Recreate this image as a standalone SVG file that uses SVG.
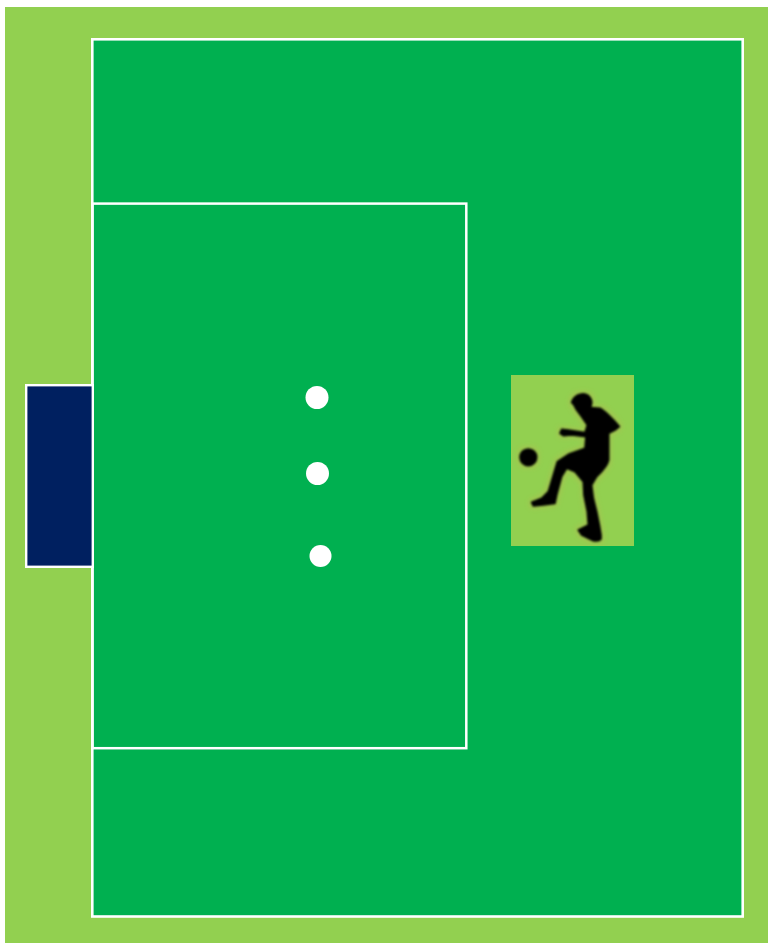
<svg xmlns="http://www.w3.org/2000/svg" width="768" height="943" viewBox="0 0 768 943">
<style>
.line{fill:none;stroke:#fff}
.spot{fill:#fff}
.shape{fill:#000;stroke:#000;stroke-width:5;stroke-linejoin:round}
</style>
<defs>
<filter id="soft" x="-10%" y="-10%" width="120%" height="120%"><feGaussianBlur stdDeviation="2.4"/></filter>
<filter id="halo" x="-20%" y="-20%" width="140%" height="140%"><feMorphology operator="dilate" radius="8"/><feGaussianBlur stdDeviation="6"/></filter>
<g id="figure">
<circle cx="85" cy="277" r="25"/>
<path d="M215 112C222 92 240 84 255 87C268 90 276 102 275 115L272 128L300 130C318 140 335 160 345 170L358 185L345 195L326 205L326 285C322 305 300 325 290 335L275 360L280 400L290 440L298 480L303 510L303 522C298 530 285 528 280 527L245 510L235 495L265 480L262 440L252 390L250 350L225 320L200 310L185 335L170 390L165 415L130 420L100 423L95 412L125 400L145 380L160 330L172 290L205 268L255 250L258 215L215 210L190 212L180 205L185 193L205 195L255 203L262 180L245 155L230 135L222 120Z"/>
</g>
</defs>
<rect width="768" height="943" fill="#fff"/>
<rect id="ground" x="5" y="7" width="763" height="936" fill="#92d050"/>
<rect id="pitch" class="line" x="92.3" y="39.3" width="650.4" height="877.2" style="fill:#00b050" stroke-width="2.6"/>
<rect id="penalty-area" class="line" x="92.5" y="203.6" width="373.8" height="544.6" stroke-width="2.5"/>
<rect id="goal" class="line" x="26.2" y="385.2" width="66.6" height="181.6" style="fill:#002060" stroke-width="2.4"/>
<g id="spots">
<circle class="spot" cx="317" cy="397.5" r="11.5"/>
<circle class="spot" cx="317.5" cy="473.5" r="11.5"/>
<circle class="spot" cx="320.5" cy="556" r="11"/>
</g>
<g id="player">
<rect x="511" y="375" width="123" height="171" fill="#92d050"/>
<g transform="translate(500 365) scale(0.3333)">
<use href="#figure" fill="#b5b84f" opacity="0.4" filter="url(#halo)"/>
<use href="#figure" class="shape" filter="url(#soft)"/>
</g>
</g>
</svg>
